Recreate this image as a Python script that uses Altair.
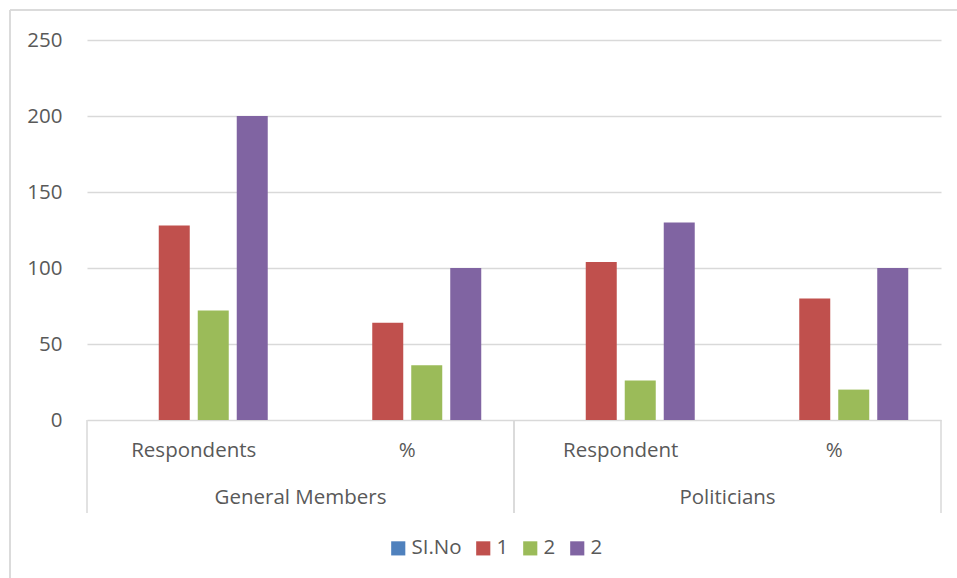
import altair as alt
import pandas as pd

# Category axis: inner labels and their outer groups
categories = ["Respondents", "%", "Respondent", "%"]
groups = ["General Members", "General Members", "Politicians", "Politicians"]

# Series names (two series share the label "2")
series_names = ["SI.No", "1", "2", "2"]
series_colors = ["#4F81BD", "#C0504D", "#9BBB59", "#8064A2"]

# Values per series, in category order
values_sino = [0, 0, 0, 0]
values_1 = [128, 64, 104, 80]
values_2a = [72, 36, 26, 20]
values_2b = [200, 100, 130, 100]

y_ticks = [0, 50, 100, 150, 200, 250]

FONT = "Open Sans"
FS = 20.5
TEXT = "#595959"
GRID = "#D9D9D9"

cat_keys = [f"{g}|{c}" for g, c in zip(groups, categories)]
series_keys = [f"{i} {n}" for i, n in enumerate(series_names)]

rows = []
for sk, vals in zip(series_keys, [values_sino, values_1, values_2a, values_2b]):
    for ck, v in zip(cat_keys, vals):
        rows.append({"cat": ck, "series": sk, "value": v})
df = pd.DataFrame(rows)

group_names = list(dict.fromkeys(groups))
gdf = pd.DataFrame({"group": group_names})

bars = alt.Chart(df).mark_bar().encode(
    x=alt.X(
        "cat:N",
        sort=cat_keys,
        scale=alt.Scale(paddingInner=0, paddingOuter=0),
        axis=alt.Axis(
            title=None,
            labelExpr="split(datum.label, '|')[1]",
            labelAngle=0,
            ticks=False,
            domain=False,
            grid=False,
            labelPadding=20,
            labelFont=FONT,
            labelFontSize=FS,
            labelColor=TEXT,
        ),
    ),
    xOffset=alt.XOffset(
        "series:N",
        sort=series_keys,
        scale=alt.Scale(paddingInner=0.205, paddingOuter=0.84),
    ),
    y=alt.Y(
        "value:Q",
        scale=alt.Scale(domain=[0, 250]),
        axis=alt.Axis(
            title=None,
            values=y_ticks,
            grid=True,
            gridColor=GRID,
            gridWidth=1.3,
            domain=False,
            ticks=False,
            labelPadding=25,
            labelFont=FONT,
            labelFontSize=FS,
            labelColor=TEXT,
        ),
    ),
    color=alt.Color(
        "series:N",
        sort=series_keys,
        scale=alt.Scale(domain=series_keys, range=series_colors),
        legend=alt.Legend(
            title=None,
            orient="none",
            direction="horizontal",
            legendX=301,
            legendY=498,
            symbolType="square",
            symbolSize=200,
            symbolStrokeWidth=0,
            labelExpr="slice(datum.label, 2)",
            labelFont=FONT,
            labelFontSize=FS,
            labelColor=TEXT,
            labelOffset=3,
            columnPadding=11,
        ),
    ),
)

# Group labels under the category labels
group_x = alt.X("group:N", sort=group_names,
                scale=alt.Scale(paddingInner=0, paddingOuter=0), axis=None)
group_text = alt.Chart(gdf).mark_text(
    font=FONT, fontSize=FS, color=TEXT, baseline="middle"
).encode(x=group_x, y=alt.value(458), text="group:N")

# Vertical separators at the group boundaries
sep_left = alt.Chart(gdf).mark_rule(color=GRID, strokeWidth=1.5).encode(
    x=alt.X("group:N", sort=group_names, bandPosition=0,
            scale=alt.Scale(paddingInner=0, paddingOuter=0), axis=None),
    y=alt.value(380), y2=alt.value(473),
)
sep_right = alt.Chart(gdf).mark_rule(color=GRID, strokeWidth=1.5).encode(
    x=alt.X("group:N", sort=group_names, bandPosition=1,
            scale=alt.Scale(paddingInner=0, paddingOuter=0), axis=None),
    y=alt.value(380), y2=alt.value(473),
)

# Chart frame (left and top edges)
frame_left = alt.Chart(gdf).mark_rule(color=GRID, strokeWidth=1.5).encode(
    x=alt.value(-77), y=alt.value(-30), y2=alt.value(545)
)
frame_top = alt.Chart(gdf).mark_rule(color=GRID, strokeWidth=1.5).encode(
    x=alt.value(-77), x2=alt.value(880), y=alt.value(-30)
)

groups_layer = alt.layer(group_text, sep_left, sep_right)

chart = (
    alt.layer(bars, groups_layer, frame_left, frame_top)
    .resolve_scale(x="independent", color="independent")
    .properties(
        width=854,
        height=380,
        autosize=alt.AutoSizeParams(type="none"),
        padding={"left": 87, "top": 40, "right": 16, "bottom": 158},
        background="white",
    )
    .configure_view(stroke=None)
)

chart.save("out.html", embed_options={"renderer": "svg", "actions": False})
